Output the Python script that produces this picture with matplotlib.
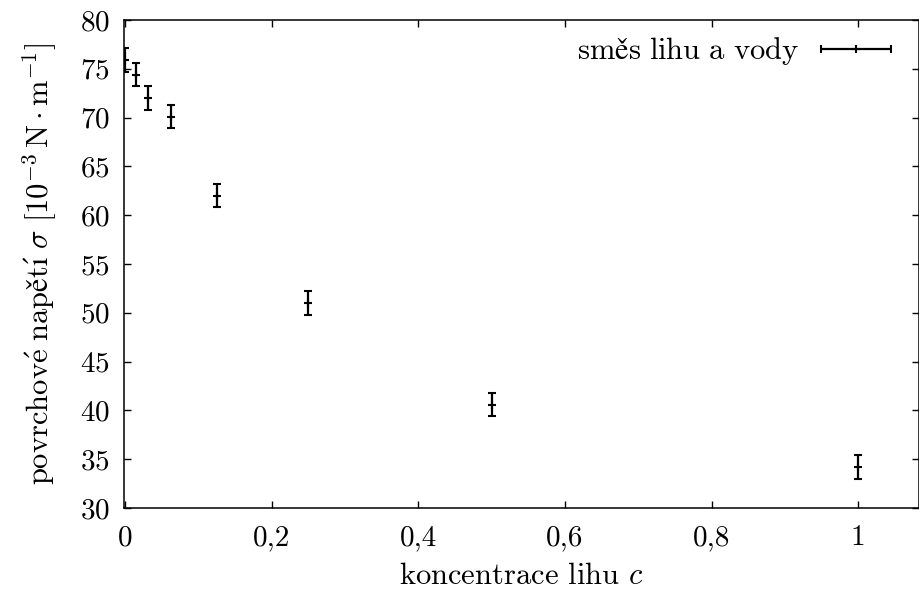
import matplotlib
matplotlib.use("Agg")
import matplotlib.pyplot as plt
from matplotlib.container import ErrorbarContainer
from matplotlib.legend_handler import HandlerErrorbar

plt.rcParams['font.family'] = ['cmr10', 'DejaVu Serif']
plt.rcParams['mathtext.fontset'] = 'cm'
plt.rcParams['axes.formatter.use_mathtext'] = True

# koncentrace lihu a povrchove napeti
konc = [0, 1/64, 1/32, 1/16, 1/8, 1/4, 1/2, 1]
sigma = [75.9, 74.4, 72.0, 70.1, 62.0, 51.0, 40.6, 34.2]
chyba = [1.2, 1.2, 1.2, 1.2, 1.2, 1.2, 1.2, 1.2]

xticks = [0, 0.2, 0.4, 0.6, 0.8, 1.0]
xticklabels = ['0', '0,2', '0,4', '0,6', '0,8', '1']
yticks = [30, 35, 40, 45, 50, 55, 60, 65, 70, 75, 80]

# cmr10 nema ceske znaky -> skladame v mathtextu
ylab = (r"$\mathrm{povrchov\acute{e}\ nap" + "\u011b" + r"t\acute{" + "\u0131"
        + r"}}\ \sigma\ [10^{-3}\,\mathrm{N}\cdot\mathrm{m}^{-1}]$")
leglab = r"$\mathrm{sm" + "\u011b" + r"s\ lihu\ a\ vody}$"

fs = 21
fs_lab = 22
fig = plt.figure(figsize=(9.2, 5.93), dpi=100)
ax = fig.add_axes([124/920, 1 - 508/593, 795/920, 488/593])

eb = ax.errorbar(konc, sigma, yerr=chyba, fmt='+', color='black',
                 markersize=5.5, markeredgewidth=1.5, elinewidth=1.6,
                 capsize=3.0, capthick=1.6)

ax.set_xlim(-0.0014, 1.083)
ax.set_ylim(30, 80)
ax.set_xticks(xticks)
ax.set_xticklabels(xticklabels)
ax.set_yticks(yticks)
ax.tick_params(direction='in', length=5, width=1, top=True, right=True,
               labelsize=fs, pad=10)
ax.tick_params(axis='x', pad=12)
for s in ax.spines.values():
    s.set_linewidth(1.1)

ax.set_xlabel(r'koncentrace lihu $c$', fontsize=fs_lab, labelpad=8)
ax.set_ylabel(ylab, fontsize=fs_lab, labelpad=15)

proxy = ErrorbarContainer(eb.lines, has_xerr=True, has_yerr=False,
                          label=leglab)
ax.legend(handles=[proxy], loc='upper right', frameon=False, fontsize=fs_lab,
          markerfirst=False, handlelength=2.3, handletextpad=0.7,
          borderaxespad=0.1, bbox_to_anchor=(0.984, 1.0),
          handler_map={ErrorbarContainer: HandlerErrorbar(xerr_size=1.15)})

fig.savefig('out.png', dpi=100)
